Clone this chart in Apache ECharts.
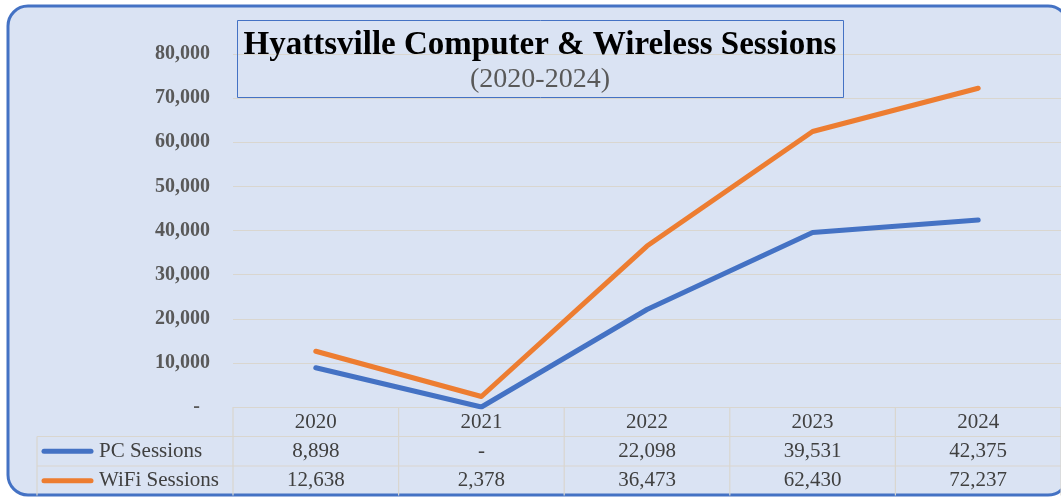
<!DOCTYPE html>
<html><head><meta charset="utf-8">
<script src="https://cdn.jsdelivr.net/npm/echarts@6/dist/echarts.min.js"></script>
<style>html,body{margin:0;background:#fff}#c{width:1061px;height:497px}</style>
</head><body><div id="c"></div>
<script>
const years = ['2020', '2021', '2022', '2023', '2024'];
const pcSessions = [8898, 0, 22098, 39531, 42375];
const wifiSessions = [12638, 2378, 36473, 62430, 72237];
const seriesNames = ['PC Sessions', 'WiFi Sessions'];
const titleText = 'Hyattsville Computer & Wireless Sessions';
const subtitleText = '(2020-2024)';

const BLUE = '#4472C4', ORANGE = '#ED7D31', BG = '#DAE3F3', TXT = '#404040', GRIDC = '#D9D6CF';
const SERIF = '"Liberation Serif", "DejaVu Serif", serif';
const FS = 21;
const fmt = v => v === 0 ? '-' : v.toLocaleString('en-US');

const chart = echarts.init(document.getElementById('c'));
const gridLeft = 233, gridTop = 54, gridH = 353, gridW = 836;
chart.setOption({
  animation: false,
  backgroundColor: 'transparent',
  grid: { left: gridLeft, top: gridTop, height: gridH, width: gridW },
  xAxis: {
    type: 'category', data: years, boundaryGap: true,
    axisLine: { show: false }, axisTick: { show: false },
    axisLabel: { color: TXT, fontFamily: SERIF, fontSize: FS, margin: 5 }
  },
  yAxis: {
    type: 'value', min: 0, max: 80000, interval: 10000,
    axisLine: { show: false }, axisTick: { show: false },
    splitLine: { lineStyle: { color: GRIDC, width: 1 } },
    axisLabel: {
      color: '#595959', fontFamily: SERIF, fontSize: 20, fontWeight: 'bold', margin: 23,
      formatter: v => v === 0 ? '-  ' : v.toLocaleString('en-US')
    }
  },
  series: [
    { name: seriesNames[0], type: 'line', data: pcSessions, symbol: 'none', z: 5,
      lineStyle: { color: BLUE, width: 5, cap: 'round', join: 'round' } },
    { name: seriesNames[1], type: 'line', data: wifiSessions, symbol: 'none', z: 5,
      lineStyle: { color: ORANGE, width: 5, cap: 'round', join: 'round' } }
  ]
});

// Build frame, title box and data table
const c0 = chart.convertToPixel({ xAxisIndex: 0 }, 0);
const c1 = chart.convertToPixel({ xAxisIndex: 0 }, 1);
const band = c1 - c0;
const yTop = chart.convertToPixel({ yAxisIndex: 0 }, 0);
const rowH = 29.5;
const r1 = yTop + rowH, r2 = yTop + 2 * rowH, r3 = yTop + 3 * rowH;
const tableLeft = 37;
const g = [];
g.push({ type: 'rect', z: -100, shape: { x: 8, y: 6, width: 1060, height: 489, r: 20 },
  style: { fill: BG, stroke: BLUE, lineWidth: 3 } });
const hl = (x1, x2, y) => g.push({ type: 'line', z: 1, shape: { x1, y1: y, x2, y2: y }, style: { stroke: GRIDC, lineWidth: 1.2 } });
const vl = (x, y1, y2) => g.push({ type: 'line', z: 1, shape: { x1: x, y1, x2: x, y2 }, style: { stroke: GRIDC, lineWidth: 1.2 } });
hl(tableLeft, 1061, r1); hl(tableLeft, 1061, r2);
vl(tableLeft, r1, r3);
for (let i = 0; i <= years.length; i++) {
  const x = c0 - band / 2 + i * band;
  vl(x, yTop, r3);
}
const rows = [[pcSessions, BLUE, r1], [wifiSessions, ORANGE, r2]];
rows.forEach(([vals, col, ry], k) => {
  const cy = ry + rowH / 2;
  g.push({ type: 'line', z: 3, shape: { x1: 44, y1: cy, x2: 91, y2: cy },
    style: { stroke: col, lineWidth: 5, lineCap: 'round' } });
  g.push({ type: 'text', z: 3, x: 99, y: cy, style: { text: seriesNames[k], fill: TXT,
    font: FS + 'px ' + SERIF, textVerticalAlign: 'middle', verticalAlign: 'middle' } });
  vals.forEach((v, i) => {
    g.push({ type: 'text', z: 3, x: c0 + i * band, y: cy, style: { text: fmt(v), fill: TXT,
      font: FS + 'px ' + SERIF, align: 'center', textAlign: 'center', verticalAlign: 'middle', textVerticalAlign: 'middle' } });
  });
});
// title box
g.push({ type: 'rect', z: 6, shape: { x: 237.5, y: 20.5, width: 606, height: 77 },
  style: { fill: 'none', stroke: BLUE, lineWidth: 1 } });
g.push({ type: 'text', z: 7, x: 540, y: 45, style: { text: titleText, fill: '#000',
  font: 'bold 33px ' + SERIF, align: 'center', textAlign: 'center', verticalAlign: 'middle', textVerticalAlign: 'middle' } });
g.push({ type: 'text', z: 7, x: 540, y: 80, style: { text: subtitleText, fill: '#595959',
  font: '28px ' + SERIF, align: 'center', textAlign: 'center', verticalAlign: 'middle', textVerticalAlign: 'middle' } });
chart.setOption({ graphic: { elements: g } });
</script></body></html>
